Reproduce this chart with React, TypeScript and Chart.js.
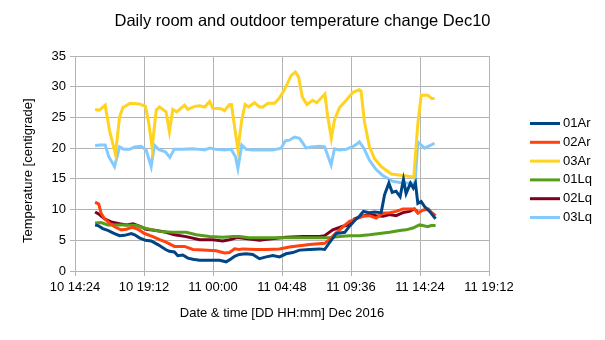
import React, { useEffect, useRef } from "react";
import { Chart, registerables } from "chart.js";

Chart.register(...registerables);

const chartTitle = "Daily room and outdoor temperature change Dec10";
const xAxisTitle = "Date & time [DD HH:mm] Dec 2016";
const yAxisTitle = "Temperature [centigrade]";

const seriesNames = ["01Ar", "02Ar", "03Ar", "01Lq", "02Lq", "03Lq"];
const seriesColors = ["#004586", "#ff420e", "#ffd320", "#579d1c", "#7e0021", "#83caff"];

// x axis: hours counted from 10 Dec 2016 00:00
const xMinHours = 14.4;
const xMaxHours = 43.2;
const xStepHours = 4.8;
const yMin = 0;
const yMax = 35;
const yStep = 5;

// times (hours since 10 Dec 00:00) and temperatures [°C]
const t01Ar = [15.8, 16.0, 16.34, 16.69, 17.15, 17.5, 17.85, 18.31, 18.55, 18.89, 19.3, 19.7, 20.16, 20.7, 20.97, 21.32, 21.55, 21.9, 22.25, 22.6, 23.06, 23.76, 24.45, 24.92, 25.26, 25.5, 25.84, 26.3, 26.77, 27.23, 27.7, 28.16, 28.63, 29.09, 29.55, 30.02, 30.71, 31.41, 31.76, 32.1, 32.57, 33.16, 33.5, 33.96, 34.19, 34.47, 34.89, 35.24, 35.7, 35.93, 36.23, 36.47, 36.74, 37.02, 37.25, 37.44, 37.74, 37.94, 38.08, 38.25, 38.48, 38.71, 39.06, 39.48];
const v01Ar = [7.5, 7.4, 6.9, 6.6, 6.1, 5.75, 5.8, 6.1, 5.9, 5.4, 5.0, 4.9, 4.3, 3.5, 3.2, 3.1, 2.5, 2.6, 2.1, 1.9, 1.75, 1.75, 1.75, 1.5, 2.0, 2.4, 2.7, 2.8, 2.7, 2.0, 2.3, 2.5, 2.3, 2.8, 3.0, 3.4, 3.5, 3.6, 3.5, 4.6, 6.1, 6.3, 7.3, 8.5, 8.9, 9.7, 9.5, 9.6, 9.5, 12.4, 14.3, 12.8, 13.0, 12.1, 14.9, 12.6, 14.3, 13.5, 14.3, 11.0, 11.3, 10.5, 9.7, 8.5];

const t02Ar = [15.8, 16.05, 16.22, 16.45, 16.8, 17.15, 17.62, 17.96, 18.38, 18.78, 19.24, 19.82, 20.28, 20.74, 21.32, 22.02, 22.6, 23.3, 24.22, 24.8, 25.15, 25.5, 25.84, 26.07, 26.99, 27.69, 28.63, 29.32, 30.02, 30.71, 31.76, 32.1, 32.57, 33.04, 33.5, 33.96, 34.42, 34.89, 35.35, 35.81, 36.28, 36.74, 37.21, 37.67, 38.01, 38.25, 38.59, 38.99, 39.18, 39.48];
const v02Ar = [11.2, 10.9, 9.4, 8.5, 7.8, 7.2, 6.7, 6.8, 7.1, 6.8, 6.1, 5.6, 5.1, 4.7, 4.0, 4.0, 3.5, 3.4, 3.3, 2.95, 3.0, 3.6, 3.5, 3.6, 3.5, 3.5, 3.6, 3.9, 4.1, 4.3, 4.5, 5.1, 6.2, 7.2, 8.1, 8.5, 8.9, 9.0, 8.6, 9.4, 9.5, 9.7, 10.1, 10.1, 10.1, 9.4, 9.9, 10.1, 9.6, 9.0];

const t03Ar = [15.8, 16.1, 16.5, 16.8, 17.22, 17.5, 17.73, 18.24, 18.89, 19.3, 19.53, 19.77, 20.05, 20.28, 20.74, 20.97, 21.2, 21.48, 22.02, 22.25, 22.71, 23.06, 23.41, 23.76, 23.99, 24.57, 24.8, 25.15, 25.29, 25.5, 25.73, 26.0, 26.24, 26.49, 26.89, 27.23, 27.46, 27.81, 28.28, 28.63, 28.97, 29.44, 29.74, 29.95, 30.21, 30.53, 30.94, 31.22, 31.78, 31.99, 32.24, 32.45, 32.8, 33.27, 33.73, 34.19, 34.3, 34.54, 34.89, 35.24, 35.7, 36.4, 37.32, 37.97, 38.25, 38.48, 38.94, 39.22, 39.41];
const v03Ar = [26.3, 26.2, 27.0, 22.9, 19.0, 25.1, 26.6, 27.3, 27.2, 26.8, 24.0, 20.1, 26.2, 26.7, 25.9, 22.7, 26.3, 25.9, 27.0, 26.3, 26.8, 26.9, 26.7, 27.6, 26.5, 26.4, 26.1, 27.1, 27.1, 23.5, 19.8, 24.6, 27.1, 26.7, 27.4, 26.7, 26.7, 27.3, 27.3, 28.2, 29.5, 31.8, 32.4, 31.6, 28.3, 27.1, 27.8, 27.4, 28.8, 25.1, 21.6, 24.6, 26.6, 27.8, 29.1, 29.5, 29.3, 24.3, 20.2, 18.3, 17.0, 15.8, 15.5, 15.3, 24.0, 28.6, 28.6, 28.1, 28.1];

const t01Lq = [15.8, 16.22, 16.69, 17.27, 17.96, 18.66, 19.24, 19.82, 20.28, 21.2, 22.13, 22.83, 23.76, 24.69, 25.38, 25.84, 26.54, 27.46, 28.39, 29.32, 30.25, 31.17, 32.1, 32.8, 33.5, 34.19, 34.89, 35.59, 36.28, 36.98, 37.44, 37.9, 38.36, 38.59, 38.94, 39.18, 39.48];
const v01Lq = [7.8, 7.9, 7.5, 7.5, 7.5, 7.4, 7.0, 6.7, 6.45, 6.3, 6.3, 5.9, 5.6, 5.5, 5.6, 5.6, 5.4, 5.4, 5.4, 5.4, 5.4, 5.4, 5.4, 5.6, 5.75, 5.75, 5.9, 6.1, 6.3, 6.6, 6.7, 7.0, 7.5, 7.4, 7.2, 7.4, 7.4];

const t02Lq = [15.8, 16.1, 16.45, 16.92, 17.5, 17.96, 18.43, 18.89, 19.35, 20.05, 20.74, 21.32, 22.13, 23.06, 23.99, 24.69, 25.15, 25.61, 25.84, 26.54, 27.23, 27.93, 29.09, 30.25, 31.41, 31.76, 32.33, 33.04, 33.5, 33.85, 34.31, 34.89, 35.35, 35.81, 36.28, 36.74, 37.21, 37.67, 38.01, 38.25];
const v02Lq = [9.6, 9.2, 8.5, 8.0, 7.7, 7.5, 7.7, 7.3, 6.8, 6.6, 6.3, 5.9, 5.6, 5.1, 5.1, 4.9, 5.1, 5.4, 5.4, 5.2, 5.0, 5.2, 5.5, 5.6, 5.6, 5.75, 6.7, 7.3, 7.5, 8.5, 8.9, 9.2, 9.0, 8.9, 9.2, 9.0, 9.5, 9.7, 10.1, 9.6];

const t03Lq = [15.8, 16.1, 16.5, 16.75, 17.15, 17.5, 17.78, 18.2, 18.55, 19.0, 19.35, 19.7, 19.92, 20.22, 20.68, 21.0, 21.3, 21.88, 22.58, 23.06, 23.41, 23.76, 24.22, 24.8, 25.26, 25.56, 25.73, 26.0, 26.31, 26.77, 27.46, 28.16, 28.74, 29.04, 29.32, 29.67, 30.02, 30.48, 30.83, 31.41, 31.76, 32.22, 32.45, 32.8, 33.27, 33.85, 34.19, 34.51, 34.86, 35.32, 35.79, 36.14, 36.5, 37.0, 37.7, 38.05, 38.25, 38.71, 39.42];
const v03Lq = [20.4, 20.5, 20.5, 18.6, 17.0, 20.2, 19.8, 19.8, 20.2, 20.3, 19.7, 17.0, 20.5, 19.8, 19.4, 18.5, 19.8, 19.8, 19.9, 19.8, 19.7, 20.0, 19.8, 19.7, 19.8, 18.6, 16.7, 20.5, 19.8, 19.7, 19.7, 19.7, 20.0, 21.2, 21.3, 21.8, 21.6, 20.0, 20.2, 20.3, 20.2, 17.3, 19.9, 19.7, 19.8, 20.4, 21.0, 19.9, 18.1, 16.6, 15.6, 15.1, 14.6, 14.4, 14.3, 14.3, 21.0, 20.0, 20.8];

const seriesTimes = [t01Ar, t02Ar, t03Ar, t01Lq, t02Lq, t03Lq];
const seriesValues = [v01Ar, v02Ar, v03Ar, v01Lq, v02Lq, v03Lq];

const FONT = '"Liberation Sans", Arial, sans-serif';
const GRID = "#b3b3b3";

const toMinutes = (h: number) => Math.round(h * 60);

const formatTick = (v: number) => {
  const m = Math.round(v);
  const day = 10 + Math.floor(m / 1440);
  const rem = m % 1440;
  const hh = Math.floor(rem / 60);
  const mm = rem % 60;
  return `${day} ${String(hh).padStart(2, "0")}:${String(mm).padStart(2, "0")}`;
};

const sideLegend = {
  id: "sideLegend",
  afterDraw(chart: any) {
    const ctx = chart.ctx;
    const left = chart.chartArea.right + 41;
    ctx.save();
    ctx.font = `13px ${FONT}`;
    ctx.textBaseline = "middle";
    ctx.textAlign = "left";
    chart.data.datasets.forEach((ds: any, i: number) => {
      const y = 123.5 + i * 18.8;
      ctx.strokeStyle = ds.borderColor;
      ctx.lineWidth = 3;
      ctx.beginPath();
      ctx.moveTo(left, y);
      ctx.lineTo(left + 30, y);
      ctx.stroke();
      ctx.fillStyle = "#000";
      ctx.fillText(ds.label, left + 33, y);
    });
    ctx.restore();
  },
};

export default function App() {
  const ref = useRef<HTMLCanvasElement | null>(null);

  useEffect(() => {
    if (!ref.current) return;
    Chart.defaults.font.family = FONT;
    Chart.defaults.color = "#000";

    const datasets = seriesNames.map((name, i) => ({
      label: name,
      data: seriesTimes[i].map((t, k) => ({ x: toMinutes(t), y: seriesValues[i][k] })),
      borderColor: seriesColors[i],
      backgroundColor: seriesColors[i],
      borderWidth: 3,
      pointRadius: 0,
      tension: 0,
      fill: false,
    }));

    const chart = new Chart(ref.current, {
      type: "line",
      data: { datasets },
      plugins: [sideLegend],
      options: {
        responsive: false,
        animation: false,
        layout: { padding: { left: 0, right: 0, top: 0, bottom: 0 } },
        plugins: {
          legend: { display: false },
          tooltip: { enabled: false },
          title: {
            display: true,
            text: chartTitle,
            color: "#000",
            font: { size: 16.5, weight: "normal", family: FONT },
            padding: { top: 12, bottom: 24.2 },
          },
        },
        scales: {
          x: {
            type: "linear",
            min: toMinutes(xMinHours),
            max: toMinutes(xMaxHours),
            afterFit: (s: any) => {
              s.height = 69;
            },
            ticks: {
              stepSize: toMinutes(xStepHours),
              callback: (v: any) => formatTick(Number(v)),
              maxRotation: 0,
              autoSkip: false,
              padding: 4,
              font: { size: 13 },
              color: "#000",
            },
            grid: { color: GRID, tickLength: 5, tickColor: GRID },
            border: { color: GRID },
            title: {
              display: true,
              text: xAxisTitle,
              font: { size: 13 },
              color: "#000",
              padding: { top: 0, bottom: 18.7 },
            },
          },
          y: {
            type: "linear",
            min: yMin,
            max: yMax,
            afterFit: (s: any) => {
              s.width = 75;
            },
            ticks: { stepSize: yStep, padding: 4, font: { size: 13 }, color: "#000" },
            grid: { color: GRID, tickLength: 5, tickColor: GRID },
            border: { color: GRID },
            title: {
              display: true,
              text: yAxisTitle + "    ",
              font: { size: 13 },
              color: "#000",
              padding: { top: 20.5, bottom: 0 },
            },
          },
          legendSpace: {
            type: "linear",
            axis: "y",
            position: "right",
            min: yMin,
            max: yMax,
            display: true,
            afterFit: (s: any) => {
              s.width = 116;
            },
            ticks: { display: false },
            grid: { display: false, drawTicks: false },
            border: { display: false },
          },
        },
      },
    } as any);

    return () => chart.destroy();
  }, []);

  return (
    <div style={{ position: "fixed", left: 0, top: 0, width: 605, height: 340, background: "#fff" }}>
      <canvas ref={ref} width={605} height={340} style={{ display: "block" }} />
    </div>
  );
}
